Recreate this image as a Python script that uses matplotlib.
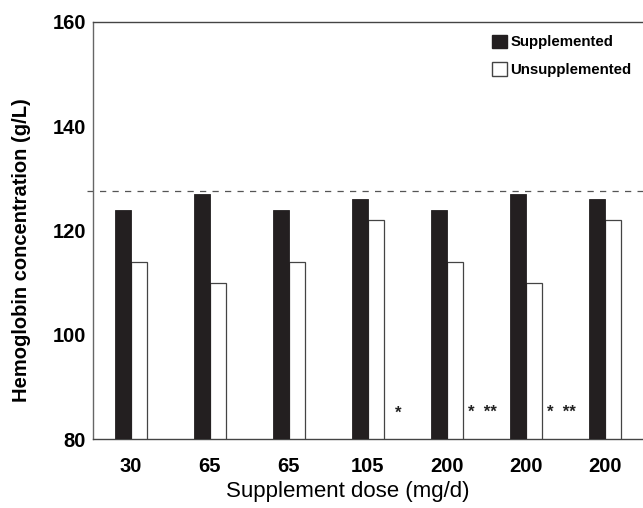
import matplotlib
matplotlib.use("Agg")
import matplotlib.pyplot as plt
from matplotlib.patches import Patch
import numpy as np

plt.rcParams["font.family"] = ["Liberation Sans", "DejaVu Sans"]

# data
doses = ["30", "65", "65", "105", "200", "200", "200"]
supplemented = [124, 127, 124, 126, 124, 127, 126]
unsupplemented = [114, 110, 114, 122, 114, 110, 122]
reference_level = 127.5
marks = ["", "", "", "*", "*  **", "*  **", ""]

x = np.arange(len(doses))
w = 0.205

fig = plt.figure(figsize=(6.43, 5.08), dpi=100)
ax = fig.add_axes([0.1446, 0.1358, 0.8554, 0.8209])

ax.bar(x - w / 2, supplemented, width=w, color="#231f20",
       edgecolor="#231f20", linewidth=0.6, zorder=3)
ax.bar(x + w / 2, unsupplemented, width=w, color="white",
       edgecolor="#444444", linewidth=0.9, zorder=2)

# dashed reference level
ax.axhline(reference_level, xmin=-0.01, color="#555555", lw=0.9,
           ls=(0, (5, 5)), zorder=1, clip_on=False)

for xi, m in zip(x, marks):
    if m:
        off = 0.38 if m == "*" else 0.45
        ax.text(xi + off, 85.0, m, ha="center", va="center",
                fontsize=12, fontweight="bold", color="#222222")

ax.set_xlim(-0.48, 6.48)
ax.set_ylim(80, 160)
ax.set_xticks(x)
ax.set_xticklabels(doses)
ax.set_yticks([80, 100, 120, 140, 160])
ax.tick_params(axis="both", length=0, labelsize=14.5)
ax.tick_params(axis="y", pad=5)
ax.tick_params(axis="x", pad=13)
for lab in ax.get_xticklabels() + ax.get_yticklabels():
    lab.set_fontweight("bold")

ax.spines["right"].set_visible(False)
ax.spines["left"].set_color("#666666")
for s in ("bottom", "top"):
    ax.spines[s].set_color("#444444")
for s in ("left", "bottom", "top"):
    ax.spines[s].set_linewidth(1.0)

fig.text(348 / 643, 1 - 491 / 508, "Supplement dose (mg/d)", fontsize=16,
         ha="center", va="center")
fig.text(22 / 643, 1 - 250 / 508, "Hemoglobin concentration (g/L)",
         fontsize=14.5, fontweight="bold", rotation=90,
         ha="center", va="center")

handles = [Patch(facecolor="#231f20", edgecolor="#231f20", label="Supplemented"),
           Patch(facecolor="white", edgecolor="#444444", label="Unsupplemented")]
ax.legend(handles=handles, loc="upper left", bbox_to_anchor=(0.725, 0.97),
          frameon=False, handlelength=1.0, handleheight=1.0,
          handletextpad=0.25, labelspacing=0.85, borderpad=0,
          borderaxespad=0, prop={"size": 10.8, "weight": "bold"})

fig.savefig("out.png", dpi=100)
